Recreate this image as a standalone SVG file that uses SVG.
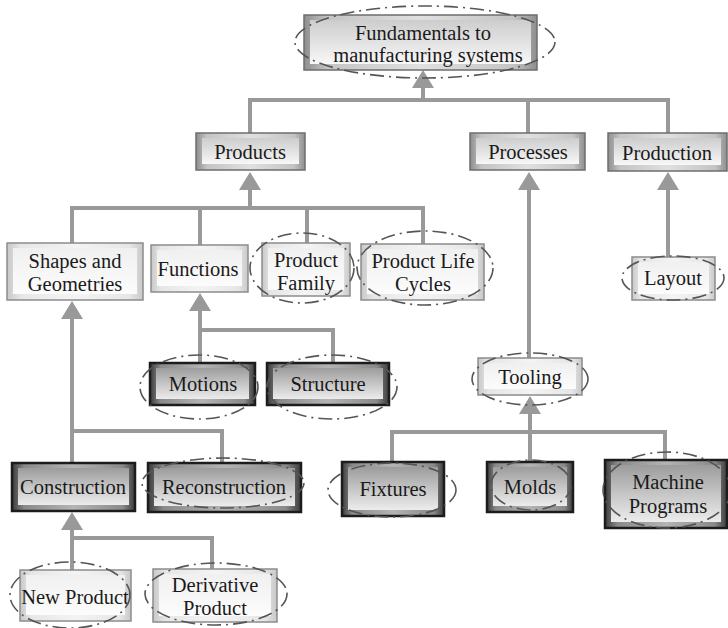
<svg xmlns="http://www.w3.org/2000/svg" width="728" height="628" viewBox="0 0 728 628">
  <style>
    text { font-family: 'Liberation Serif', serif; font-size: 20.5px; fill: #1a1a1a; text-anchor: middle; }
    .wire { fill: none; stroke: #999999; stroke-width: 4; }
    .arrow { fill: none; stroke: #999999; stroke-width: 4; marker-end: url(#head); }
    .ring { fill: none; stroke: #555555; stroke-width: 1.6; stroke-dasharray: 14 5 2 5; }
    .mid-edge { fill: url(#midSide); stroke: #6e6e6e; stroke-width: 1.5; }
    .mid-face { fill: url(#midFace); }
    .light-edge { fill: url(#lightSide); stroke: #8c8c8c; stroke-width: 1.5; }
    .light-face { fill: url(#lightFace); }
    .dark-edge { fill: url(#darkSide); stroke: #1c1c1c; stroke-width: 2.5; }
    .dark-face { fill: url(#darkFace); }
  </style>
  <defs>
    <marker id="head" markerUnits="userSpaceOnUse" markerWidth="18" markerHeight="22" viewBox="0 0 18 22" refX="0" refY="11" orient="auto">
      <path d="M0,0 L18,11 L0,22 Z" fill="#999999"/>
    </marker>
    <linearGradient id="midSide" x1="0" y1="0" x2="1" y2="0">
      <stop offset="0" stop-color="#8e8e8e"/>
      <stop offset="0.1" stop-color="#c4c4c4"/>
      <stop offset="0.5" stop-color="#e0e0e0"/>
      <stop offset="0.9" stop-color="#c4c4c4"/>
      <stop offset="1" stop-color="#8e8e8e"/>
    </linearGradient>
    <linearGradient id="midFace" x1="0" y1="0" x2="0" y2="1">
      <stop offset="0" stop-color="#cdcdcd"/>
      <stop offset="0.6" stop-color="#e6e6e6"/>
      <stop offset="1" stop-color="#f8f8f8"/>
    </linearGradient>
    <linearGradient id="lightSide" x1="0" y1="0" x2="1" y2="0">
      <stop offset="0" stop-color="#c8c8c8"/>
      <stop offset="0.1" stop-color="#e6e6e6"/>
      <stop offset="0.5" stop-color="#f4f4f4"/>
      <stop offset="0.9" stop-color="#e6e6e6"/>
      <stop offset="1" stop-color="#c8c8c8"/>
    </linearGradient>
    <linearGradient id="lightFace" x1="0" y1="0" x2="0" y2="1">
      <stop offset="0" stop-color="#f0f0f0"/>
      <stop offset="1" stop-color="#fcfcfc"/>
    </linearGradient>
    <linearGradient id="darkSide" x1="0" y1="0" x2="1" y2="0">
      <stop offset="0" stop-color="#3c3c3c"/>
      <stop offset="0.1" stop-color="#8a8a8a"/>
      <stop offset="0.5" stop-color="#b4b4b4"/>
      <stop offset="0.9" stop-color="#8a8a8a"/>
      <stop offset="1" stop-color="#3c3c3c"/>
    </linearGradient>
    <linearGradient id="darkFace" x1="0" y1="0" x2="0" y2="1">
      <stop offset="0" stop-color="#9c9c9c"/>
      <stop offset="0.6" stop-color="#cdcdcd"/>
      <stop offset="1" stop-color="#ececec"/>
    </linearGradient>
  </defs>

  <rect width="728" height="628" fill="#ffffff"/>

  <g id="connectors">
    <!-- top level bus -->
    <path class="wire" d="M250,133 V100 H668 V133"/>
    <path class="wire" d="M528,100 V133"/>
    <path class="arrow" d="M423,100 V88"/>
    <!-- Products children -->
    <path class="wire" d="M72,243 V208 H423 V244"/>
    <path class="wire" d="M200,208 V245"/>
    <path class="wire" d="M307,208 V243"/>
    <path class="arrow" d="M250,208 V190"/>
    <!-- Processes / Production -->
    <path class="arrow" d="M529,358 V190"/>
    <path class="arrow" d="M668,257 V190"/>
    <!-- Shapes and Geometries -->
    <path class="arrow" d="M72,463 V319"/>
    <path class="wire" d="M72,431 H222 V463"/>
    <!-- Functions -->
    <path class="wire" d="M200,363 V330 H333 V363"/>
    <path class="arrow" d="M200,330 V311"/>
    <!-- Tooling -->
    <path class="wire" d="M392,462 V432 H665 V460"/>
    <path class="wire" d="M530,432 V462"/>
    <path class="arrow" d="M530,432 V414"/>
    <!-- Construction -->
    <path class="wire" d="M72,570 V538 H212 V569"/>
    <path class="arrow" d="M72,538 V530"/>
  </g>

  <g id="fundamentals">
    <rect class="mid-edge" x="304" y="15" width="233" height="55"/>
    <rect class="mid-face" x="310" y="20" width="221" height="44"/>
    <text x="423" y="40">Fundamentals to</text>
    <text x="428" y="62">manufacturing systems</text>
    <ellipse class="ring" cx="425" cy="42" rx="130" ry="36"/>
  </g>

  <g id="products">
    <rect class="mid-edge" x="196" y="133" width="109" height="37"/>
    <rect class="mid-face" x="202" y="138" width="97" height="26"/>
    <text x="250" y="159">Products</text>
  </g>

  <g id="processes">
    <rect class="mid-edge" x="470" y="133" width="115" height="37"/>
    <rect class="mid-face" x="476" y="138" width="103" height="26"/>
    <text x="528" y="159">Processes</text>
  </g>

  <g id="production">
    <rect class="mid-edge" x="608" y="133" width="119" height="38"/>
    <rect class="mid-face" x="614" y="138" width="107" height="27"/>
    <text x="667" y="160">Production</text>
  </g>

  <g id="shapes">
    <rect class="light-edge" x="7" y="243" width="136" height="57"/>
    <rect class="light-face" x="13" y="248" width="124" height="46"/>
    <text x="75" y="268">Shapes and</text>
    <text x="75" y="291">Geometries</text>
  </g>

  <g id="functions">
    <rect class="light-edge" x="151" y="245" width="97" height="47"/>
    <rect class="light-face" x="157" y="250" width="85" height="36"/>
    <text x="198" y="276">Functions</text>
  </g>

  <g id="product-family">
    <rect class="light-edge" x="262" y="243" width="88" height="53"/>
    <rect class="light-face" x="268" y="248" width="76" height="42"/>
    <text x="306" y="267">Product</text>
    <text x="306" y="290">Family</text>
    <ellipse class="ring" cx="302" cy="268" rx="52" ry="35"/>
  </g>

  <g id="product-life-cycles">
    <rect class="light-edge" x="361" y="244" width="123" height="56"/>
    <rect class="light-face" x="367" y="249" width="111" height="45"/>
    <text x="423" y="268">Product Life</text>
    <text x="423" y="291">Cycles</text>
    <ellipse class="ring" cx="425" cy="268" rx="68" ry="37"/>
  </g>

  <g id="layout">
    <rect class="light-edge" x="632" y="257" width="83" height="43"/>
    <rect class="light-face" x="638" y="262" width="71" height="32"/>
    <text x="673" y="285">Layout</text>
    <ellipse class="ring" cx="673" cy="278" rx="51" ry="22"/>
  </g>

  <g id="motions">
    <rect class="dark-edge" x="150" y="363" width="105" height="42"/>
    <rect class="dark-face" x="156" y="368" width="93" height="31"/>
    <text x="203" y="391">Motions</text>
    <ellipse class="ring" cx="199" cy="387" rx="59" ry="32"/>
  </g>

  <g id="structure">
    <rect class="dark-edge" x="267" y="363" width="122" height="42"/>
    <rect class="dark-face" x="273" y="368" width="110" height="31"/>
    <text x="328" y="391">Structure</text>
    <ellipse class="ring" cx="332" cy="387" rx="65" ry="32"/>
  </g>

  <g id="tooling">
    <rect class="light-edge" x="478" y="358" width="104" height="37"/>
    <rect class="light-face" x="484" y="363" width="92" height="26"/>
    <text x="530" y="384">Tooling</text>
    <ellipse class="ring" cx="530" cy="379" rx="58" ry="26"/>
  </g>

  <g id="construction">
    <rect class="dark-edge" x="12" y="463" width="123" height="48"/>
    <rect class="dark-face" x="18" y="468" width="111" height="37"/>
    <text x="73" y="494">Construction</text>
  </g>

  <g id="reconstruction">
    <rect class="dark-edge" x="148" y="463" width="153" height="49"/>
    <rect class="dark-face" x="154" y="468" width="141" height="38"/>
    <text x="224" y="494">Reconstruction</text>
    <ellipse class="ring" cx="223" cy="483" rx="81" ry="25"/>
  </g>

  <g id="fixtures">
    <rect class="dark-edge" x="342" y="462" width="102" height="54"/>
    <rect class="dark-face" x="348" y="467" width="90" height="43"/>
    <text x="393" y="496">Fixtures</text>
    <ellipse class="ring" cx="392" cy="490" rx="64" ry="27"/>
  </g>

  <g id="molds">
    <rect class="dark-edge" x="487" y="462" width="86" height="50"/>
    <rect class="dark-face" x="493" y="467" width="74" height="39"/>
    <text x="530" y="494">Molds</text>
    <ellipse class="ring" cx="531" cy="485" rx="40" ry="25"/>
  </g>

  <g id="machine-programs">
    <rect class="dark-edge" x="605" y="460" width="122" height="68"/>
    <rect class="dark-face" x="611" y="465" width="110" height="57"/>
    <text x="668" y="489">Machine</text>
    <text x="668" y="513">Programs</text>
    <ellipse class="ring" cx="667" cy="490" rx="64" ry="38"/>
  </g>

  <g id="new-product">
    <rect class="light-edge" x="20" y="570" width="111" height="51"/>
    <rect class="light-face" x="26" y="575" width="99" height="40"/>
    <text x="75" y="604">New Product</text>
    <ellipse class="ring" cx="70" cy="595" rx="60" ry="33"/>
  </g>

  <g id="derivative-product">
    <rect class="light-edge" x="153" y="569" width="124" height="53"/>
    <rect class="light-face" x="159" y="574" width="112" height="42"/>
    <text x="215" y="592">Derivative</text>
    <text x="215" y="615">Product</text>
    <ellipse class="ring" cx="216" cy="594" rx="71" ry="31"/>
  </g>
</svg>
